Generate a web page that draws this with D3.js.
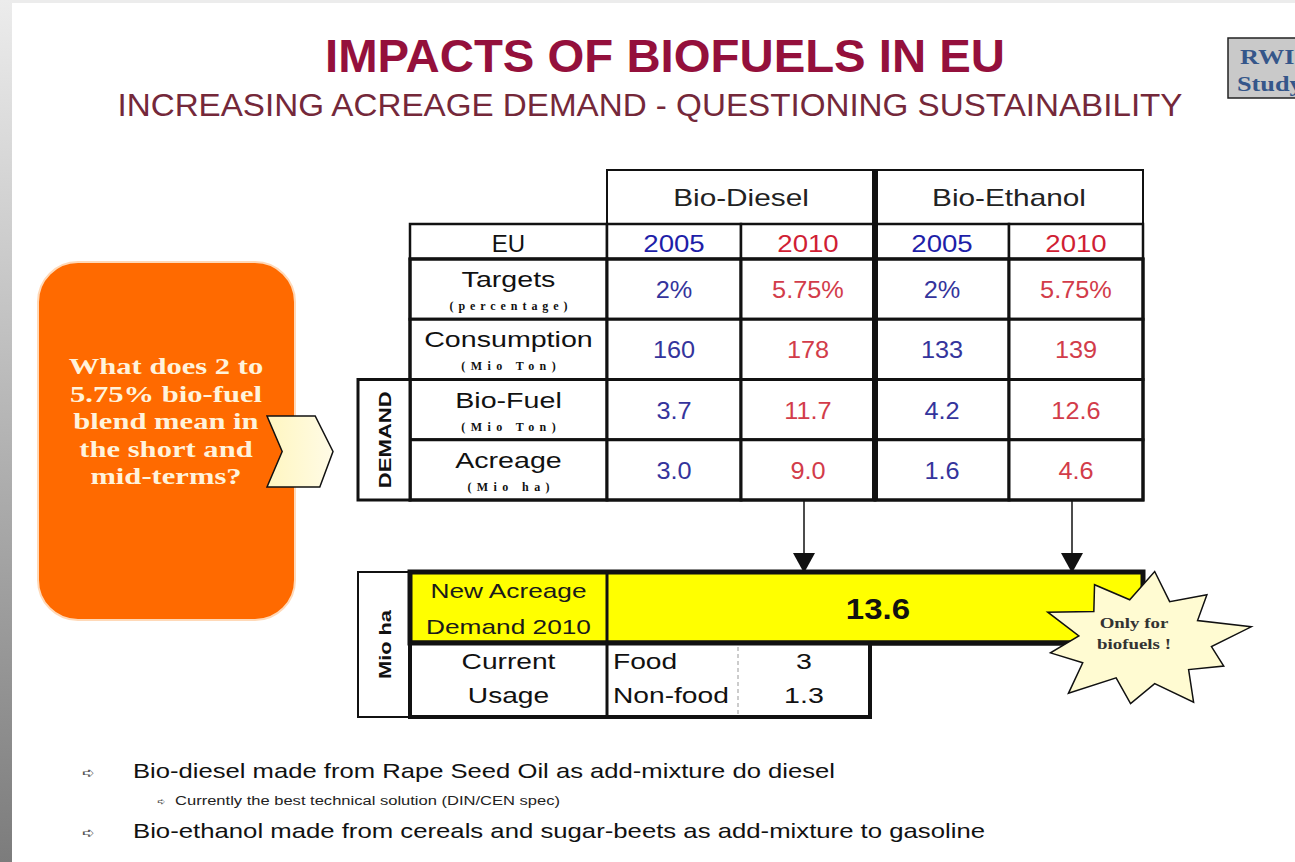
<!DOCTYPE html>
<html><head><meta charset="utf-8">
<script src="https://cdn.jsdelivr.net/npm/d3@7"></script>
<style>body{margin:0;background:#fff;} svg{display:block;}</style>
</head><body><svg id="c" width="1295" height="862"></svg>
<script>
// ---------- DATA ----------
const title = "IMPACTS OF BIOFUELS IN EU";
const subtitle = "INCREASING ACREAGE DEMAND - QUESTIONING SUSTAINABILITY";
const fuels = ["Bio-Diesel", "Bio-Ethanol"];
const years = ["2005", "2010", "2005", "2010"];
const rowLabels = ["Targets", "Consumption", "Bio-Fuel", "Acreage"];
const rowUnits = ["(percentage)", "(Mio Ton)", "(Mio Ton)", "(Mio ha)"];
const bioDiesel2005 = ["2%", "160", "3.7", "3.0"];
const bioDiesel2010 = ["5.75%", "178", "11.7", "9.0"];
const bioEthanol2005 = ["2%", "133", "4.2", "1.6"];
const bioEthanol2010 = ["5.75%", "139", "12.6", "4.6"];
const newAcreageLabel = ["New Acreage", "Demand 2010"];
const newAcreage = "13.6";
const usageHeader = ["Current", "Usage"];
const usageLabels = ["Food", "Non-food"];
const usageValues = ["3", "1.3"];
const question = ["What does 2 to", "5.75% bio-fuel", "blend mean in", "the short and", "mid-terms?"];
const starText = ["Only for", "biofuels !"];
const bullets = ["Bio-diesel made from Rape Seed Oil as add-mixture do diesel",
                 "Bio-ethanol made from cereals and sugar-beets as add-mixture to gasoline"];
const subBullet = "Currently the best technical solution (DIN/CEN spec)";

// ---------- HELPERS ----------
function stretch(sel, k, mode) {
  sel.each(function(){
    const w = this.getComputedTextLength();
    d3.select(this).attr("textLength", w*k).attr("lengthAdjust", mode || "spacingAndGlyphs");
  });
  return sel;
}

// ---------- DRAW ----------
const svg = d3.select("#c");
const defs = svg.append("defs");
const g1 = defs.append("linearGradient").attr("id","side").attr("x1",0).attr("y1",0).attr("x2",0).attr("y2",1);
g1.append("stop").attr("offset","0%").attr("stop-color","#ececec");
g1.append("stop").attr("offset","100%").attr("stop-color","#7c7c7c");
const g2 = defs.append("linearGradient").attr("id","chev").attr("x1",0).attr("y1",0).attr("x2",1).attr("y2",0);
g2.append("stop").attr("offset","0%").attr("stop-color","#fff6c0");
g2.append("stop").attr("offset","100%").attr("stop-color","#fffbe6");

svg.append("rect").attr("width",1295).attr("height",862).attr("fill","#fff");
svg.append("rect").attr("x",0).attr("y",0).attr("width",1295).attr("height",3).attr("fill","#ececec");
svg.append("rect").attr("x",0).attr("y",0).attr("width",12).attr("height",862).attr("fill","url(#side)");

const SANS = "Arial, 'Liberation Sans', sans-serif";
const SERIF = "'Times New Roman', 'Liberation Serif', serif";

// titles
svg.append("text").attr("x",665).attr("y",72).attr("text-anchor","middle")
  .attr("font-family",SANS).attr("font-weight","bold").attr("font-size",47)
  .attr("fill","#94103c").attr("textLength",680).attr("lengthAdjust","spacingAndGlyphs").text(title);
svg.append("text").attr("x",650).attr("y",116).attr("text-anchor","middle")
  .attr("font-family",SANS).attr("font-size",32)
  .attr("fill","#74283a").attr("textLength",1065).attr("lengthAdjust","spacingAndGlyphs").text(subtitle);

// RWI box
svg.append("rect").attr("x",1228).attr("y",38).attr("width",80).attr("height",60)
  .attr("fill","#c9c9c9").attr("stroke","#222").attr("stroke-width",1.5);
stretch(svg.append("text").attr("x",1240).attr("y",64).attr("font-family",SERIF).attr("font-weight","bold")
  .attr("font-size",21).attr("fill","#35568a").text("RWI"), 1.25);
stretch(svg.append("text").attr("x",1237).attr("y",91).attr("font-family",SERIF).attr("font-weight","bold")
  .attr("font-size",21).attr("fill","#35568a").text("Study"), 1.25);

// orange question box
svg.append("rect").attr("x",38).attr("y",262).attr("width",257).attr("height",358).attr("rx",40).attr("ry",40)
  .attr("fill","#ff6a00").attr("stroke","#ffd9b8").attr("stroke-width",2);
stretch(svg.append("g").selectAll("text").data(question).join("text")
  .attr("x",166).attr("y",(d,i)=>374 + i*27.5).attr("text-anchor","middle")
  .attr("font-family",SERIF).attr("font-weight","bold").attr("font-size",23)
  .attr("fill","#fff3dc").text(d=>d), 1.33);

// chevron
const chevX = d3.scaleLinear().domain([0,1]).range([267,333]);
const chevY = d3.scaleLinear().domain([0,1]).range([416,487]);
const chevPts = [[0,0],[0.73,0],[1,0.5],[0.8,1],[0,1],[0.23,0.5]];
svg.append("path").attr("d", d3.line().x(d=>chevX(d[0])).y(d=>chevY(d[1]))(chevPts)+"Z")
  .attr("fill","url(#chev)").attr("stroke","#111").attr("stroke-width",1.5);

// ---------- upper table ----------
const dataCols = d3.scaleBand().domain(d3.range(4)).range([607,1143]);
const dataRows = d3.scaleBand().domain(d3.range(4)).range([259,500]);
const labelX0 = 410, labelX1 = 607;
const headTop = 170, euTop = 224, euBot = 259;
const cols = [bioDiesel2005, bioDiesel2010, bioEthanol2005, bioEthanol2010];
const valColor = (j)=> j%2===0 ? "#34349c" : "#d23c4a";
const yearColor = (j)=> j%2===0 ? "#1e1ea8" : "#d01e34";

const T = svg.append("g");
const fuelScale = d3.scaleBand().domain(fuels).range([607,1143]);
T.selectAll("rect.fuel").data(fuels).join("rect").attr("class","fuel")
  .attr("x",d=>fuelScale(d)).attr("y",headTop).attr("width",fuelScale.bandwidth()).attr("height",euTop-headTop)
  .attr("fill","#fff").attr("stroke","#111").attr("stroke-width",2);
stretch(T.selectAll("text.fuel").data(fuels).join("text").attr("class","fuel")
  .attr("x",d=>fuelScale(d)+fuelScale.bandwidth()/2).attr("y",206).attr("text-anchor","middle")
  .attr("font-family",SANS).attr("font-size",24).attr("fill","#222").text(d=>d), 1.24);

// EU row
T.append("rect").attr("x",labelX0).attr("y",euTop).attr("width",labelX1-labelX0).attr("height",euBot-euTop)
  .attr("fill","#fff").attr("stroke","#111").attr("stroke-width",2.5);
T.append("text").attr("x",(labelX0+labelX1)/2).attr("y",252).attr("text-anchor","middle")
  .attr("font-family",SANS).attr("font-size",24).attr("fill","#111").text("EU");
T.selectAll("rect.yr").data(years).join("rect").attr("class","yr")
  .attr("x",(d,j)=>dataCols(j)).attr("y",euTop).attr("width",dataCols.bandwidth()).attr("height",euBot-euTop)
  .attr("fill","#fff").attr("stroke","#111").attr("stroke-width",2.5);
stretch(T.selectAll("text.yr").data(years).join("text").attr("class","yr")
  .attr("x",(d,j)=>dataCols(j)+dataCols.bandwidth()/2).attr("y",252).attr("text-anchor","middle")
  .attr("font-family",SANS).attr("font-size",23).attr("fill",(d,j)=>yearColor(j)).text(d=>d), 1.2);

// data rows
rowLabels.forEach((lab,i)=>{
  const y0 = dataRows(i), h = dataRows.bandwidth();
  T.append("rect").attr("x",labelX0).attr("y",y0).attr("width",labelX1-labelX0).attr("height",h)
    .attr("fill","#fff").attr("stroke","#111").attr("stroke-width",3);
  stretch(T.append("text").attr("x",(labelX0+labelX1)/2).attr("y",y0+28).attr("text-anchor","middle")
    .attr("font-family",SANS).attr("font-size",22).attr("fill","#111").text(lab), 1.3);
  stretch(T.append("text").attr("x",(labelX0+labelX1)/2).attr("y",y0+51).attr("text-anchor","middle")
    .attr("font-family",SERIF).attr("font-weight","bold").attr("font-size",12)
    .attr("fill","#111").text(rowUnits[i]), 1.85, "spacing");
  cols.forEach((col,j)=>{
    T.append("rect").attr("x",dataCols(j)).attr("y",y0).attr("width",dataCols.bandwidth()).attr("height",h)
      .attr("fill","#fff").attr("stroke","#111").attr("stroke-width",3);
    stretch(T.append("text").attr("x",dataCols(j)+dataCols.bandwidth()/2).attr("y",y0+h/2+9).attr("text-anchor","middle")
      .attr("font-family",SANS).attr("font-size",23).attr("fill",valColor(j)).text(col[i]), 1.1);
  });
});
T.append("line").attr("x1",fuelScale("Bio-Ethanol")).attr("x2",fuelScale("Bio-Ethanol"))
  .attr("y1",headTop).attr("y2",500).attr("stroke","#111").attr("stroke-width",6);
T.append("rect").attr("x",labelX0).attr("y",euBot).attr("width",1143-labelX0).attr("height",500-euBot)
  .attr("fill","none").attr("stroke","#111").attr("stroke-width",3);
T.append("rect").attr("x",358).attr("y",dataRows(2)).attr("width",labelX0-358).attr("height",500-dataRows(2))
  .attr("fill","#fff").attr("stroke","#111").attr("stroke-width",3);
stretch(T.append("text").attr("transform",`translate(391,${(dataRows(2)+500)/2}) rotate(-90)`).attr("text-anchor","middle")
  .attr("font-family",SANS).attr("font-weight","bold").attr("font-size",17).attr("fill","#111").text("DEMAND"), 1.3);

// arrows from 2010 columns
[1,3].forEach(j=>{
  const x = dataCols(j)+dataCols.bandwidth()/2 - 4;
  svg.append("line").attr("x1",x).attr("x2",x).attr("y1",500).attr("y2",556).attr("stroke","#111").attr("stroke-width",1.5);
  svg.append("path").attr("d",`M${x-11},553 L${x+11},553 L${x},573 Z`).attr("fill","#111");
});

// ---------- lower table ----------
const L = svg.append("g");
const yTop = 572, yMid = 643, yBot = 717;
L.append("rect").attr("x",358).attr("y",yTop).attr("width",labelX0-358).attr("height",yBot-yTop)
  .attr("fill","#fff").attr("stroke","#111").attr("stroke-width",2);
stretch(L.append("text").attr("transform",`translate(391,${(yTop+yBot)/2}) rotate(-90)`).attr("text-anchor","middle")
  .attr("font-family",SANS).attr("font-weight","bold").attr("font-size",17).attr("fill","#111").text("Mio ha"), 1.28);
L.append("rect").attr("x",labelX0).attr("y",yTop).attr("width",1143-labelX0).attr("height",yMid-yTop)
  .attr("fill","#ffff00").attr("stroke","#111").attr("stroke-width",5);
stretch(L.selectAll("text.na").data(newAcreageLabel).join("text").attr("class","na")
  .attr("x",(labelX0+labelX1)/2).attr("y",(d,i)=>598+i*36).attr("text-anchor","middle")
  .attr("font-family",SANS).attr("font-size",21).attr("fill","#1a1a1a").text(d=>d), 1.25);
stretch(L.append("text").attr("x",878).attr("y",619).attr("text-anchor","middle")
  .attr("font-family",SANS).attr("font-weight","bold").attr("font-size",30).attr("fill","#111").text(newAcreage), 1.1);
L.append("rect").attr("x",labelX0).attr("y",yMid).attr("width",870-labelX0).attr("height",yBot-yMid)
  .attr("fill","#fff").attr("stroke","#111").attr("stroke-width",4);
L.append("line").attr("x1",labelX0).attr("x2",1143).attr("y1",yMid).attr("y2",yMid).attr("stroke","#111").attr("stroke-width",5);
L.append("line").attr("x1",labelX1).attr("x2",labelX1).attr("y1",yTop).attr("y2",yBot).attr("stroke","#111").attr("stroke-width",3);
L.append("line").attr("x1",738).attr("x2",738).attr("y1",yMid+4).attr("y2",yBot-3)
  .attr("stroke","#999").attr("stroke-width",1).attr("stroke-dasharray","4,3");
stretch(L.selectAll("text.uh").data(usageHeader).join("text").attr("class","uh")
  .attr("x",(labelX0+labelX1)/2).attr("y",(d,i)=>669+i*34).attr("text-anchor","middle")
  .attr("font-family",SANS).attr("font-size",22).attr("fill","#111").text(d=>d), 1.28);
stretch(L.selectAll("text.ul").data(usageLabels).join("text").attr("class","ul")
  .attr("x",613).attr("y",(d,i)=>669+i*34)
  .attr("font-family",SANS).attr("font-size",22).attr("fill","#111").text(d=>d), 1.28);
stretch(L.selectAll("text.uv").data(usageValues).join("text").attr("class","uv")
  .attr("x",804).attr("y",(d,i)=>669+i*34).attr("text-anchor","middle")
  .attr("font-family",SANS).attr("font-size",22).attr("fill","#111").text(d=>d), 1.3);

// starburst
const starR = [1.0,0.62,0.9,0.6,1.05,0.66,0.85,0.6,1.0,0.62,0.9,0.58,1.02,0.64,0.88,0.6,0.98,0.62,0.92,0.6];
const cx = 1142, cy = 641, rx = 106, ry = 70;
const starPts = starR.map((r,k)=>{
  const a = -Math.PI/2 + k*2*Math.PI/starR.length + 0.12;
  return [cx + Math.cos(a)*rx*r, cy + Math.sin(a)*ry*r];
});
svg.append("path").attr("d", d3.line()(starPts)+"Z")
  .attr("fill","#fffbd2").attr("stroke","#111").attr("stroke-width",1.5);
stretch(svg.selectAll("text.star").data(starText).join("text").attr("class","star")
  .attr("x",1134).attr("y",(d,i)=>628+i*21).attr("text-anchor","middle")
  .attr("font-family",SERIF).attr("font-weight","bold").attr("font-size",14.5).attr("fill","#333").text(d=>d), 1.3);

// bullets
const B = svg.append("g");
const bulletY = [778, 838];
const bulletW = [702, 852];
bullets.forEach((b,i)=>{
  B.append("text").attr("x",82).attr("y",bulletY[i]).attr("font-family","DejaVu Sans").attr("font-size",15)
    .attr("fill","#555").text("➪");
  B.append("text").attr("x",133).attr("y",bulletY[i]).attr("font-family",SANS).attr("font-size",21)
    .attr("fill","#111").attr("textLength",bulletW[i]).attr("lengthAdjust","spacingAndGlyphs").text(b);
});
B.append("text").attr("x",157).attr("y",805).attr("font-family","DejaVu Sans").attr("font-size",10)
  .attr("fill","#555").text("➪");
B.append("text").attr("x",175).attr("y",805).attr("font-family",SANS).attr("font-size",12)
  .attr("fill","#222").attr("textLength",385).attr("lengthAdjust","spacingAndGlyphs").text(subBullet);
</script></body></html>
